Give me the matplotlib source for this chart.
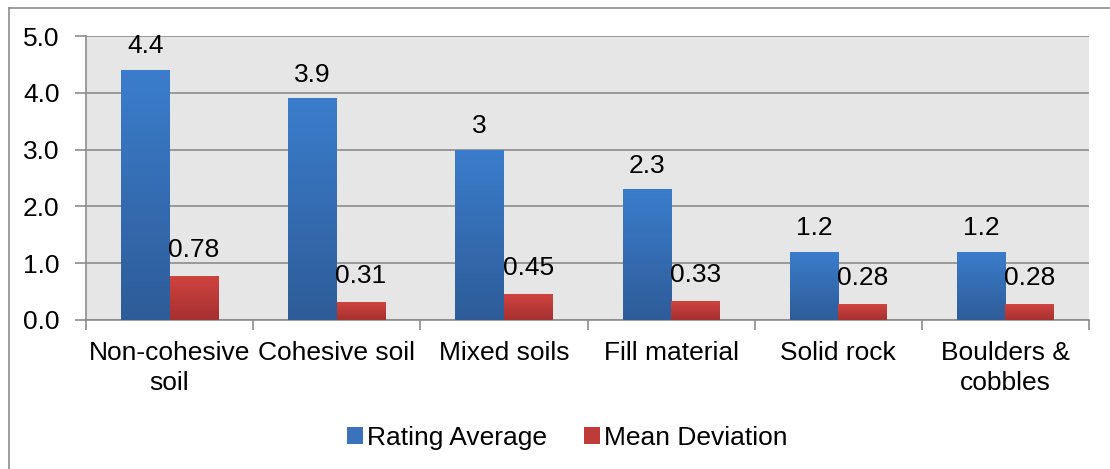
import numpy as np
import matplotlib
matplotlib.use("Agg")
import matplotlib.pyplot as plt
from matplotlib.colors import LinearSegmentedColormap
from matplotlib.lines import Line2D

plt.rcParams["font.family"] = ["Liberation Sans", "DejaVu Sans"]

categories = ["Non-cohesive\nsoil", "Cohesive soil", "Mixed soils",
              "Fill material", "Solid rock", "Boulders &\ncobbles"]
rating_average = [4.4, 3.9, 3.0, 2.3, 1.2, 1.2]
mean_deviation = [0.78, 0.31, 0.45, 0.33, 0.28, 0.28]
rating_labels = ["4.4", "3.9", "3", "2.3", "1.2", "1.2"]
deviation_labels = ["0.78", "0.31", "0.45", "0.33", "0.28", "0.28"]

FS = 19
fig = plt.figure(figsize=(11.1, 4.69), dpi=100)
ax = fig.add_axes([0.0775, 0.3177, 0.9036, 0.6055])

# outer chart border (only top and left edges are visible)
bx, by = 8.5 / 1110, 1 - 8.5 / 469
fig.add_artist(Line2D([bx, 1.0], [by, by], transform=fig.transFigure,
                      color="#8c8c8c", linewidth=1.2))
fig.add_artist(Line2D([bx, bx], [0.0, by], transform=fig.transFigure,
                      color="#8c8c8c", linewidth=1.2))

ax.set_facecolor("#e6e6e6")
x = np.arange(len(categories))
w = 0.29

blue_cmap = LinearSegmentedColormap.from_list("b", ["#2e5c98", "#3b7dcc"])
red_cmap = LinearSegmentedColormap.from_list("r", ["#a63030", "#cf4440"])


def gradient_bars(xpos, vals, cmap, label, legend_color):
    bars = ax.bar(xpos, vals, w, color=legend_color, label=label, zorder=3,
                  edgecolor="none")
    grad = np.linspace(0, 1, 256).reshape(-1, 1)
    for b in bars:
        x0, y0 = b.get_x(), b.get_y()
        im = ax.imshow(grad, cmap=cmap, origin="lower", aspect="auto",
                       extent=[x0, x0 + b.get_width(), y0, y0 + b.get_height()],
                       zorder=3.5)
        im.set_clip_path(b)
    return bars


gradient_bars(x - w / 2, rating_average, blue_cmap, "Rating Average", "#3a72bb")
gradient_bars(x + w / 2, mean_deviation, red_cmap, "Mean Deviation", "#c03a38")

for xi, v, t in zip(x - w / 2, rating_average, rating_labels):
    ax.text(xi, v + 0.42, t, ha="center", va="center", fontsize=FS, zorder=5)
for xi, v, t in zip(x + w / 2, mean_deviation, deviation_labels):
    ax.text(xi, v + 0.46, t, ha="center", va="center", fontsize=FS, zorder=5)

ax.set_xlim(-0.5, len(categories) - 0.5)
ax.set_ylim(0, 5)
ax.set_yticks(np.arange(0, 5.01, 1.0))
ax.set_yticklabels([f"{v:.1f}" for v in np.arange(0, 5.01, 1.0)], fontsize=FS)
ax.yaxis.grid(True, color="#8c8c8c", linewidth=1.2, zorder=1)
ax.set_axisbelow(True)

ax.set_xticks(x)
ax.set_xticklabels(categories, fontsize=FS, linespacing=1.3)
ax.tick_params(axis="x", length=0, pad=15)
ax.set_xticks(np.arange(-0.5, len(categories)), minor=True)
ax.tick_params(axis="x", which="minor", length=7, color="#8c8c8c", width=1.2)
ax.tick_params(axis="y", length=8, color="#8c8c8c", width=1.2, pad=11)

for side in ["top", "right"]:
    ax.spines[side].set_visible(False)
for side in ["left", "bottom"]:
    ax.spines[side].set_color("#8c8c8c")
    ax.spines[side].set_linewidth(1.2)

ax.legend(loc="center", bbox_to_anchor=(0.48, -0.416), ncol=2,
          frameon=False, fontsize=FS, handlelength=0.6, handleheight=0.6,
          handletextpad=0.15, columnspacing=1.4)

fig.savefig("out.png", dpi=100)
